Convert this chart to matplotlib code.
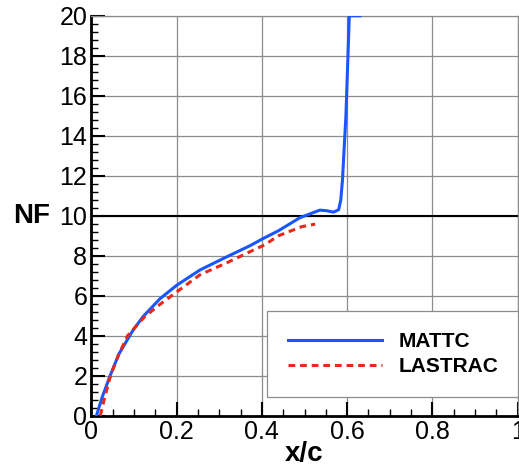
import matplotlib.pyplot as plt
from matplotlib.ticker import MultipleLocator

plt.rcParams['font.family'] = ['Liberation Sans', 'DejaVu Sans']

# MATTC (solid blue)
mattc_x = [0.012, 0.025, 0.044, 0.065, 0.097, 0.121, 0.161, 0.2, 0.255, 0.318, 0.372,
           0.402, 0.439, 0.489, 0.536, 0.552, 0.568, 0.58, 0.585, 0.589, 0.593, 0.597,
           0.601, 0.605, 0.63]
mattc_y = [0.0, 0.9, 2.0, 3.1, 4.25, 4.95, 5.85, 6.52, 7.29, 7.95, 8.5,
           8.85, 9.25, 9.9, 10.28, 10.25, 10.18, 10.3, 10.78, 11.78, 13.4, 14.95,
           17.45, 20.0, 20.0]

# LASTRAC (dashed red)
lastrac_x = [0.021, 0.03, 0.045, 0.063, 0.085, 0.125, 0.16, 0.185, 0.204, 0.255, 0.318,
             0.372, 0.407, 0.439, 0.493, 0.525]
lastrac_y = [0.0, 0.8, 2.0, 3.0, 4.0, 4.95, 5.55, 5.95, 6.25, 7.05, 7.65,
             8.2, 8.55, 9.0, 9.45, 9.58]

fig = plt.figure(figsize=(5.19, 4.70), dpi=100)
ax = fig.add_axes([0.176, 0.1155, 0.8215, 0.851])

ax.plot(mattc_x, mattc_y, color='#1a56ff', lw=2.2, label='MATTC', zorder=3)
ax.plot(lastrac_x, lastrac_y, color='#e8281a', lw=2.2, ls=(0, (2.2, 1.6)),
        label='LASTRAC', zorder=3)

ax.axhline(10, color='black', lw=1.5, zorder=2)

ax.set_xlim(0, 1)
ax.set_ylim(0, 20)
ax.xaxis.set_minor_locator(MultipleLocator(0.05))
ax.yaxis.set_major_locator(MultipleLocator(2))
ax.yaxis.set_minor_locator(MultipleLocator(0.4))
ax.set_xticks([0, 0.2, 0.4, 0.6, 0.8, 1.0])
ax.set_xticklabels(['0', '0.2', '0.4', '0.6', '0.8', '1'])
ax.grid(True, which='major', color='#8c8c8c', lw=0.9)
ax.tick_params(which='both', direction='in', labelsize=18, top=False, right=False,
               width=1.5)
ax.tick_params(which='major', length=10, pad=3)
ax.tick_params(which='minor', length=5, width=1)

for s in ['left', 'bottom']:
    ax.spines[s].set_linewidth(2)
for s in ['top', 'right']:
    ax.spines[s].set_color('#8c8c8c')
    ax.spines[s].set_linewidth(0.9)

ax.set_xlabel('x/c', fontsize=20, fontweight='bold', labelpad=-2)
ax.set_ylabel('NF', fontsize=20, fontweight='bold', rotation=0, va='center', ha='center')
ax.yaxis.set_label_coords(-0.14, 0.5)

leg = ax.legend(loc='center', bbox_to_anchor=(0.412, 0.037, 0.588, 0.235),
                mode='expand', prop={'size': 15, 'weight': 'bold'}, handlelength=4.5,
                handletextpad=0.8, labelspacing=0.3, fancybox=False,
                framealpha=1, edgecolor='#8c8c8c', borderpad=1.0, borderaxespad=0)
leg.get_frame().set_linewidth(0.9)

fig.savefig('out.png', dpi=100)
